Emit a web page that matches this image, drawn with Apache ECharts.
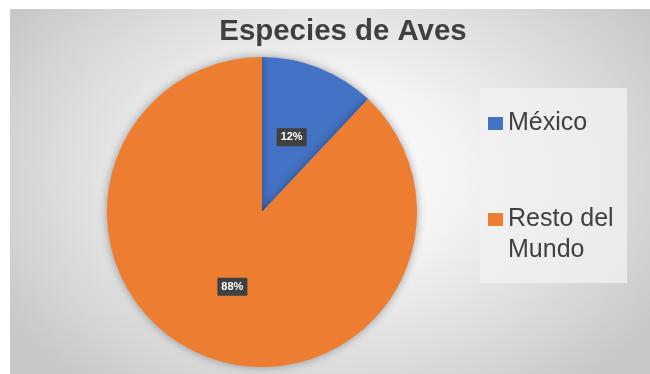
<!DOCTYPE html>
<html>
<head>
<meta charset="utf-8">
<script src="https://cdn.jsdelivr.net/npm/echarts@6/dist/echarts.min.js"></script>
<style>
html,body{margin:0;padding:0;background:#fff;}
#wrap{position:relative;width:650px;height:374px;background:#fff;overflow:hidden;}
#bg{position:absolute;left:10px;top:9px;right:0;bottom:0;background:radial-gradient(ellipse 60% 75% at 50% 45%, #ffffff 0%, #f3f3f3 35%, #d6d6d6 80%, #c8c8c8 100%);}
#chart{position:absolute;left:0;top:0;width:650px;height:374px;}
</style>
</head>
<body>
<div id="wrap"><div id="bg"></div><div id="chart"></div></div>
<script>
const title = 'Especies de Aves';
const categories = ['México', 'Resto del Mundo'];
const values = [12, 88];
const colors = ['#4472C4', '#ED7D31'];

const chart = echarts.init(document.getElementById('chart'), null, {renderer: 'canvas'});
chart.setOption({
  backgroundColor: 'transparent',
  animation: false,
  title: {
    text: title,
    left: 338, top: 12, textAlign: 'center',
    textStyle: {fontFamily: 'Liberation Sans, Arial', fontSize: 29.4, fontWeight: 'bold', color: '#404040'}
  },
  graphic: [{
    type: 'rect', left: 480, top: 88, z: -1,
    shape: {width: 147, height: 195},
    style: {fill: 'rgba(242,242,242,0.75)'}
  }],
  legend: {
    orient: 'vertical', left: 488, top: 108, padding: 0,
    itemWidth: 15, itemHeight: 13, itemGap: 34,
    icon: 'rect',
    formatter: n => n === 'Resto del Mundo' ? ' \nResto del\nMundo' : n,
    textStyle: {fontFamily: 'Liberation Sans, Arial', fontSize: 25, color: '#404040', lineHeight: 31},
    data: categories
  },
  series: [{
    type: 'pie',
    center: [262, 212], radius: [0, 155],
    startAngle: 90, clockwise: true,
    itemStyle: {shadowBlur: 8, shadowColor: 'rgba(0,0,0,0.35)'},
    label: {
      position: 'inside',
      formatter: p => Math.round(p.percent) + '%',
      color: '#fff', fontFamily: 'Liberation Sans, Arial', fontSize: 11, fontWeight: 'bold',
      backgroundColor: '#404040', padding: [4, 4, 3, 4], borderRadius: 1
    },
    labelLine: {show: false},
    emphasis: {disabled: true},
    data: categories.map((c, i) => ({name: c, value: values[i], itemStyle: {color: colors[i]}}))
  }]
});
</script>
</body>
</html>
